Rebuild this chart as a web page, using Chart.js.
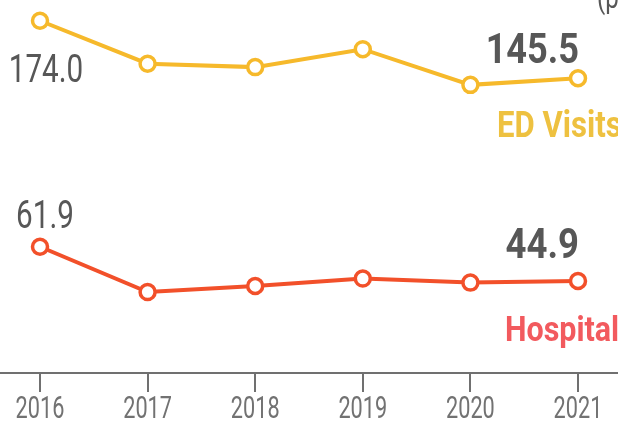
<!DOCTYPE html>
<html>
<head>
<meta charset="utf-8">
<script src="https://cdn.jsdelivr.net/npm/chart.js@4"></script>
<style>
  html, body { margin: 0; padding: 0; background: #fff; overflow: hidden; }
  #wrap { position: relative; width: 618px; height: 421px; }
</style>
</head>
<body>
<div id="wrap"><canvas id="chart" width="618" height="421"></canvas></div>
<script>
const years = ["2016", "2017", "2018", "2019", "2020", "2021"];
const edVisits = [174.0, 152.7, 151.0, 159.9, 142.2, 145.5];
const hospital = [61.9, 39.4, 42.4, 46.1, 44.1, 44.9];

const ED_COLOR = "#F6B92B";
const HOSP_COLOR = "#F2502A";
const TEXT_DARK = "#575757";
const AXIS = "#707070";

// draw text with a horizontal squeeze, to fake a condensed face
function drawText(ctx, text, x, y, font, color, align, sx) {
    ctx.save();
    ctx.font = font;
    ctx.fillStyle = color;
    ctx.textBaseline = "alphabetic";
    ctx.translate(x, y);
    ctx.scale(sx, 1);
    const w = ctx.measureText(text).width;
    let dx = 0;
    if (align === "right") dx = -w;
    else if (align === "center") dx = -w / 2;
    ctx.fillText(text, dx, 0);
    ctx.restore();
}

const labelsPlugin = {
    id: "labels",
    afterDraw(chart) {
        const ctx = chart.ctx;
        const xs = chart.scales.x;
        const bottom = chart.chartArea.bottom;

        // full-width baseline
        ctx.save();
        ctx.strokeStyle = AXIS;
        ctx.lineWidth = 2;
        ctx.beginPath();
        ctx.moveTo(0, bottom);
        ctx.lineTo(chart.width, bottom);
        ctx.stroke();
        ctx.restore();

        years.forEach((y, i) => {
            drawText(ctx, y, xs.getPixelForValue(i), bottom + 45, "31px Roboto", "#727272", "center", 0.7);
        });

        // units note, cut off at the top right like the source
        drawText(ctx, "(per 1,000)", 597, 8, "32px Roboto", TEXT_DARK, "left", 0.75);

        const ed = chart.getDatasetMeta(0).data;
        const hp = chart.getDatasetMeta(1).data;
        const n = years.length - 1;

        drawText(ctx, edVisits[0].toFixed(1), ed[0].x + 6, ed[0].y + 61, "38px Roboto", TEXT_DARK, "center", 0.78);
        drawText(ctx, edVisits[n].toFixed(1), ed[n].x + 1, ed[n].y - 15, "bold 42px Roboto", TEXT_DARK, "right", 0.86);
        drawText(ctx, "ED Visits", ed[n].x - 81, ed[n].y + 59, "bold 37px Roboto", "#EEC140", "left", 0.84);

        drawText(ctx, hospital[0].toFixed(1), hp[0].x + 5, hp[0].y - 19, "38px Roboto", TEXT_DARK, "center", 0.78);
        drawText(ctx, hospital[n].toFixed(1), hp[n].x + 1, hp[n].y - 23, "bold 42px Roboto", TEXT_DARK, "right", 0.87);
        drawText(ctx, "Hospital", hp[n].x - 73, hp[n].y + 60, "bold 35px Roboto", "#F25A5E", "left", 0.87);
    }
};

new Chart(document.getElementById("chart").getContext("2d"), {
    type: "line",
    data: {
        labels: years,
        datasets: [
            {
                label: "ED Visits",
                data: edVisits,
                borderColor: ED_COLOR,
                borderWidth: 4,
                pointRadius: 7.5,
                pointBorderWidth: 3.5,
                pointBackgroundColor: "#fff",
                pointBorderColor: ED_COLOR,
                tension: 0
            },
            {
                label: "Hospital",
                data: hospital,
                borderColor: HOSP_COLOR,
                borderWidth: 4,
                pointRadius: 7.5,
                pointBorderWidth: 3.5,
                pointBackgroundColor: "#fff",
                pointBorderColor: HOSP_COLOR,
                tension: 0
            }
        ]
    },
    options: {
        responsive: false,
        animation: false,
        layout: { autoPadding: false, padding: { left: 40, right: 40, top: 0, bottom: 0 } },
        plugins: { legend: { display: false }, tooltip: { enabled: false } },
        scales: {
            x: {
                offset: false,
                grid: { drawOnChartArea: false, tickLength: 19, color: AXIS, lineWidth: 2 },
                border: { display: false },
                ticks: { display: false },
                afterFit: s => { s.height = 48; }
            },
            y: {
                display: false,
                min: -0.75,
                max: 184.3
            }
        }
    },
    plugins: [labelsPlugin]
});
</script>
</body>
</html>
